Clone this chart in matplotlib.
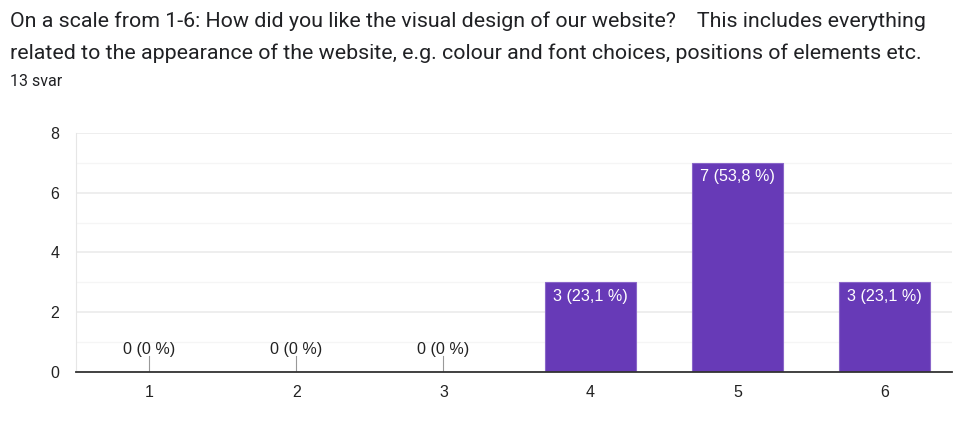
import matplotlib
matplotlib.use("Agg")
import matplotlib.pyplot as plt
from matplotlib.ticker import MultipleLocator

# data
categories = ["1", "2", "3", "4", "5", "6"]
counts = [0, 0, 0, 3, 7, 3]
labels = ["0 (0 %)", "0 (0 %)", "0 (0 %)", "3 (23,1 %)", "7 (53,8 %)", "3 (23,1 %)"]
title_1 = "On a scale from 1-6: How did you like the visual design of our website?    This includes everything"
title_2 = "related to the appearance of the website, e.g. colour and font choices, positions of elements etc."
subtitle = "13 svar"

plt.rcParams['font.family'] = ['Roboto', 'DejaVu Sans']
chart_font = ['Liberation Sans', 'DejaVu Sans']

fig = plt.figure(figsize=(9.54, 4.44), dpi=100)
ax = fig.add_axes([76/954, 1 - 372/444, (952 - 76)/954, (372 - 133)/444])

xs = list(range(1, len(categories) + 1))
ax.bar(xs, counts, width=0.62, color="#673ab7", edgecolor="#8a66c9", linewidth=0.8, zorder=3)

for x, c, lab in zip(xs, counts, labels):
    if c > 0:
        ax.annotate(lab, (x, c), xytext=(0, -4.5), textcoords="offset points",
                    ha="center", va="top", color="white", fontsize=11.6, family=chart_font)
    else:
        # zero bars get a small stub line with the label on top
        ax.plot([x, x], [0, 0.55], color="#999999", lw=0.8, zorder=3)
        ax.annotate(lab, (x, 0.55), xytext=(0, -1), textcoords="offset points",
                    ha="center", va="bottom", color="#222222", fontsize=11.6, family=chart_font)

ax.set_xlim(0.5, 6.46)
ax.set_ylim(0, 8)
ax.set_xticks(xs)
ax.set_xticklabels(categories)
ax.yaxis.set_major_locator(MultipleLocator(2))
ax.yaxis.set_minor_locator(MultipleLocator(1))
ax.grid(axis="y", which="major", color="#ebebeb", lw=1.2, zorder=0)
ax.grid(axis="y", which="minor", color="#f5f5f5", lw=1.0, zorder=0)
ax.tick_params(axis="both", which="both", length=0, labelsize=11.5, colors="#222222")
ax.tick_params(axis="x", pad=9)
ax.tick_params(axis="y", pad=12)
for t in ax.get_xticklabels() + ax.get_yticklabels():
    t.set_family(chart_font)

for s in ["top", "right"]:
    ax.spines[s].set_visible(False)
ax.spines["left"].set_color("#e6e6e6")
ax.spines["bottom"].set_color("#333333")
ax.spines["bottom"].set_linewidth(1.3)
ax.spines["bottom"].set_zorder(4)

fig.text(10/954, 1 - 21/444, title_1, fontsize=15.4, color="#202124", va="center", ha="left")
fig.text(10/954, 1 - 53/444, title_2, fontsize=15.4, color="#202124", va="center", ha="left")
fig.text(10/954, 1 - 81/444, subtitle, fontsize=11.5, color="#202124", va="center", ha="left")

fig.savefig("out.png", dpi=100, facecolor="white")
